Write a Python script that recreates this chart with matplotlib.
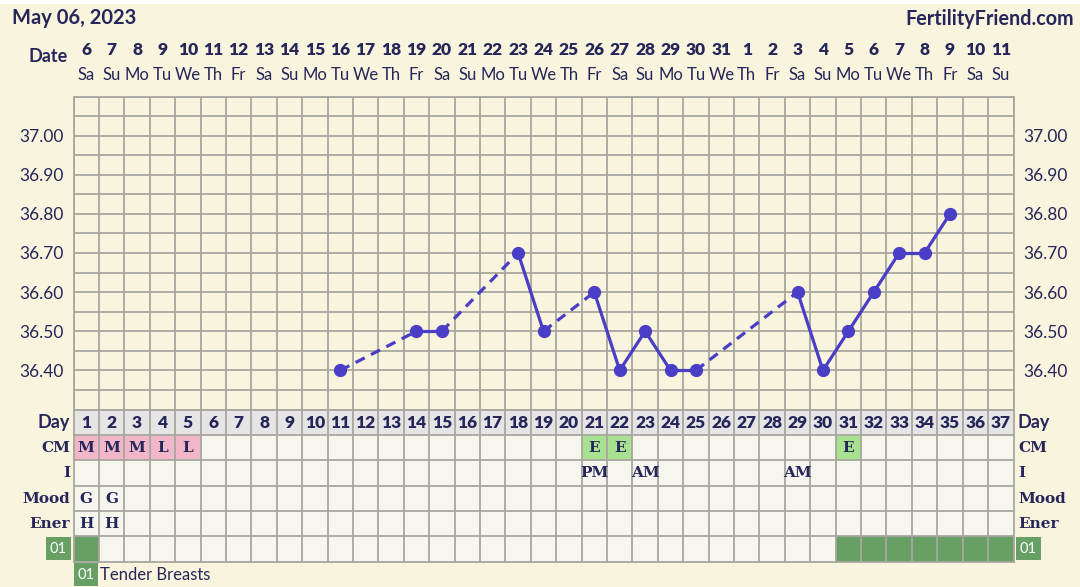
import matplotlib
matplotlib.use("Agg")
import matplotlib.pyplot as plt
import matplotlib.transforms as mtransforms
from matplotlib.patches import Rectangle

# ---------------- data ----------------
title_date = "May 06, 2023"
site = "FertilityFriend.com"
cycle_days = list(range(1, 38))
date_nums = [6, 7, 8, 9, 10, 11, 12, 13, 14, 15, 16, 17, 18, 19, 20, 21, 22, 23, 24,
             25, 26, 27, 28, 29, 30, 31, 1, 2, 3, 4, 5, 6, 7, 8, 9, 10, 11]
weekdays = ["Sa", "Su", "Mo", "Tu", "We", "Th", "Fr"] * 5 + ["Sa", "Su"]

temp_days = [11, 14, 15, 18, 19, 21, 22, 23, 24, 25, 29, 30, 31, 32, 33, 34, 35]
temps = [36.40, 36.50, 36.50, 36.70, 36.50, 36.60, 36.40, 36.50, 36.40, 36.40,
         36.60, 36.40, 36.50, 36.60, 36.70, 36.70, 36.80]
y_ticks = [36.40, 36.50, 36.60, 36.70, 36.80, 36.90, 37.00]

cm_days = [1, 2, 3, 4, 5, 21, 22, 31]
cm_vals = ["M", "M", "M", "L", "L", "E", "E", "E"]
i_days = [21, 23, 29]
i_vals = ["PM", "AM", "AM"]
mood_days = [1, 2]
mood_vals = ["G", "G"]
ener_days = [1, 2]
ener_vals = ["H", "H"]
symptom_days = [1, 31, 32, 33, 34, 35, 36, 37]
symptom_code = "01"
symptom_name = "Tender Breasts"
row_labels = ["Day", "CM", "I", "Mood", "Ener"]

# ---------------- style ----------------
W, H = 1080, 587
BG = "#F8F4DD"
GRID = "#A7A79F"
NAVY = "#26265A"
LINE = "#4A3DC6"
CELL = "#F6F6EF"
DAYROW = "#E5E5E5"
PINK = "#F2B6C9"
LGREEN = "#A8E190"
DGREEN = "#679F65"
SANS = "Lato"
SLAB = "DejaVu Serif"

fig = plt.figure(figsize=(W / 100, H / 100), dpi=100, facecolor=BG)

def fx(px):
    return px / W

def fy(py):
    return 1 - py / H

# white strip at top
fig.patches.append(Rectangle((0, fy(4)), 1, 4 / H, transform=fig.transFigure,
                             facecolor="white", edgecolor="none", zorder=0))

left_px, right_px = 73.5, 1013.5
top_px, chart_bot_px, table_bot_px = 96.5, 409.5, 561.5

ax = fig.add_axes([fx(left_px), fy(chart_bot_px), fx(right_px - left_px),
                   (chart_bot_px - top_px) / H])
ax.set_facecolor(BG)
ax.set_xlim(0.5, 37.5)
ax.set_ylim(36.30, 37.10)
for k in range(38):
    ax.axvline(0.5 + k, color=GRID, lw=1.3, zorder=1)
for k in range(17):
    ax.axhline(36.30 + 0.05 * k, color=GRID, lw=1.3, zorder=1)
for s in ax.spines.values():
    s.set_color(GRID)
    s.set_linewidth(1.3)
ax.set_xticks([])
ax.set_yticks(y_ticks)
ax.set_yticklabels([f"{v:.2f}" for v in y_ticks])
ax.tick_params(axis="y", length=0, labelsize=12.5, labelcolor=NAVY, pad=7,
               left=True, right=True, labelleft=True, labelright=True)
for lab in ax.get_yticklabels():
    lab.set_fontfamily(SANS)

# temperature line segments
for i in range(len(temp_days) - 1):
    d0, d1 = temp_days[i], temp_days[i + 1]
    ls = "-" if d1 - d0 == 1 else (0, (3.2, 2.2))
    ax.plot([d0, d1], [temps[i], temps[i + 1]], color=LINE, lw=2.3,
            linestyle=ls, zorder=3, solid_capstyle="round")
ax.plot(temp_days, temps, linestyle="none", marker="o", markersize=8.5,
        color=LINE, zorder=4)

# date header labels
trans_top = mtransforms.blended_transform_factory(ax.transData, fig.transFigure)
for d, n, w in zip(cycle_days, date_nums, weekdays):
    ax.text(d, fy(50), str(n), transform=trans_top, ha="center", va="center",
            fontsize=12.5, fontweight="heavy", color=NAVY, family=SANS)
    ax.text(d, fy(75), w, transform=trans_top, ha="center", va="center",
            fontsize=12, color=NAVY, family=SANS)

fig.text(fx(68), fy(57), "Date", ha="right", va="center", fontsize=13,
         fontweight="bold", color=NAVY, family=SANS)
fig.text(fx(12), fy(18), title_date, ha="left", va="center", fontsize=14.5,
         fontweight="bold", color=NAVY, family=SANS)
fig.text(fx(1074), fy(19), site, ha="right", va="center", fontsize=14.2,
         fontweight="bold", color=NAVY, family=SANS)

# ---------------- table ----------------
tax = fig.add_axes([fx(left_px), fy(table_bot_px), fx(right_px - left_px),
                    (table_bot_px - chart_bot_px) / H])
tax.set_xlim(0.5, 37.5)
tax.set_ylim(6, 0)
tax.set_axis_off()

tax.bar(cycle_days, [1] * 37, bottom=0, width=1, color=DAYROW, zorder=1)
tax.bar(cycle_days, [5] * 37, bottom=1, width=1, color=CELL, zorder=1)
cm_colors = [LGREEN if v == "E" else PINK for v in cm_vals]
tax.bar(cm_days, [1] * len(cm_days), bottom=1, width=1, color=cm_colors, zorder=2)
tax.bar(symptom_days, [1] * len(symptom_days), bottom=5, width=1, color=DGREEN,
        zorder=2)
for k in range(38):
    tax.plot([0.5 + k, 0.5 + k], [0, 6], color=GRID, lw=1.3, zorder=3,
             clip_on=False)
for k in range(7):
    tax.plot([0.5, 37.5], [k, k], color=GRID, lw=1.3, zorder=3, clip_on=False)

for d in cycle_days:
    tax.text(d, 0.52, str(d), ha="center", va="center", fontsize=12.5,
             fontweight="heavy", color=NAVY, family=SANS, zorder=4)

def put_row(days, vals, row):
    for d, v in zip(days, vals):
        tax.text(d, row + 0.52, v, ha="center", va="center", fontsize=11,
                 fontweight="bold", color=NAVY, family=SLAB, zorder=4)

put_row(cm_days, cm_vals, 1)
put_row(i_days, i_vals, 2)
put_row(mood_days, mood_vals, 3)
put_row(ener_days, ener_vals, 4)

trans_row = mtransforms.blended_transform_factory(fig.transFigure, tax.transData)
for r, lab in enumerate(row_labels):
    fam = SANS if lab == "Day" else SLAB
    fs = 13 if lab == "Day" else 11
    fig.text(fx(70), r + 0.52, lab, transform=trans_row, ha="right",
             va="center", fontsize=fs, fontweight="bold", color=NAVY, family=fam)
    fig.text(fx(1018), r + 0.52, lab, transform=trans_row, ha="left",
             va="center", fontsize=fs, fontweight="bold", color=NAVY, family=fam)

# symptom code badges
for xpx, ha in [(67, "right"), (1020, "left")]:
    fig.text(fx(xpx), 5.5, symptom_code, transform=trans_row, ha=ha,
             va="center", fontsize=10.5, color="white", family=SANS,
             bbox=dict(boxstyle="square,pad=0.3", facecolor=DGREEN,
                       edgecolor="none"))

# legend
fig.patches.append(Rectangle((fx(73.5), fy(586)), fx(24), 23 / H,
                             transform=fig.transFigure, facecolor=DGREEN,
                             edgecolor="none", zorder=1))
fig.text(fx(85.5), fy(575), symptom_code, ha="center", va="center",
         fontsize=10.5, color="white", family=SANS)
fig.text(fx(100), fy(575), symptom_name, ha="left", va="center",
         fontsize=12, color=NAVY, family=SANS)

fig.savefig("out.png", dpi=100, facecolor=BG)
